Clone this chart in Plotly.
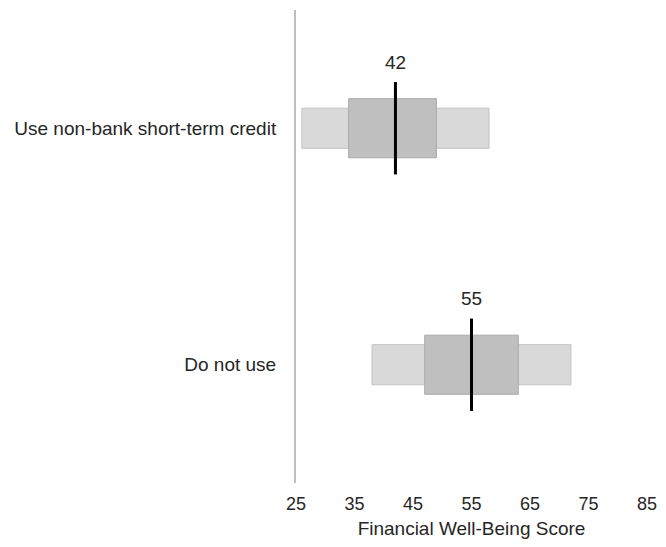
import plotly.graph_objects as go

categories = ["Use non-bank short-term credit", "Do not use"]
p10 = [26, 38]
p25 = [34, 47]
median = [42, 55]
p75 = [49, 63]
p90 = [58, 72]
x_ticks = [25, 35, 45, 55, 65, 75, 85]

font_family = "Liberation Sans, Arial, sans-serif"
text_color = "#262626"

fig = go.Figure()
fig.add_trace(go.Bar(
    y=categories, x=[b - a for a, b in zip(p10, p90)], base=p10,
    orientation="h", width=0.17,
    marker=dict(color="#d9d9d9", line=dict(color="#c4c4c4", width=1)),
    hoverinfo="skip", showlegend=False))
fig.add_trace(go.Bar(
    y=categories, x=[b - a for a, b in zip(p25, p75)], base=p25,
    orientation="h", width=0.25,
    marker=dict(color="#bfbfbf", line=dict(color="#aaaaaa", width=1)),
    hoverinfo="skip", showlegend=False))
fig.add_trace(go.Scatter(
    y=categories, x=median, mode="markers",
    marker=dict(symbol="line-ns", size=66, line=dict(color="black", width=3)),
    hoverinfo="skip", showlegend=False))

for c, m in zip(categories, median):
    fig.add_annotation(x=m, y=c, text=str(m), showarrow=False, yshift=66,
                       font=dict(size=19, color=text_color, family=font_family))

fig.update_layout(
    width=650, height=537,
    margin=dict(l=288, r=11, t=2, b=62),
    plot_bgcolor="white", paper_bgcolor="white",
    barmode="overlay",
    font=dict(family=font_family, color=text_color),
    xaxis=dict(range=[25, 85], tickvals=x_ticks, showgrid=False, zeroline=False,
               showline=False, ticks="", ticklabelstandoff=8,
               tickfont=dict(size=18, color=text_color),
               title=dict(text="Financial Well-Being Score", font=dict(size=19, color=text_color),
                          standoff=8)),
    yaxis=dict(categoryorder="array", categoryarray=categories[::-1], range=[-0.5, 1.5],
               showgrid=False, zeroline=False, showline=True, linecolor="#bfbfbf",
               linewidth=2, ticks="", ticklabelstandoff=14,
               tickfont=dict(size=19, color=text_color)),
)

fig.write_html("out.html")
